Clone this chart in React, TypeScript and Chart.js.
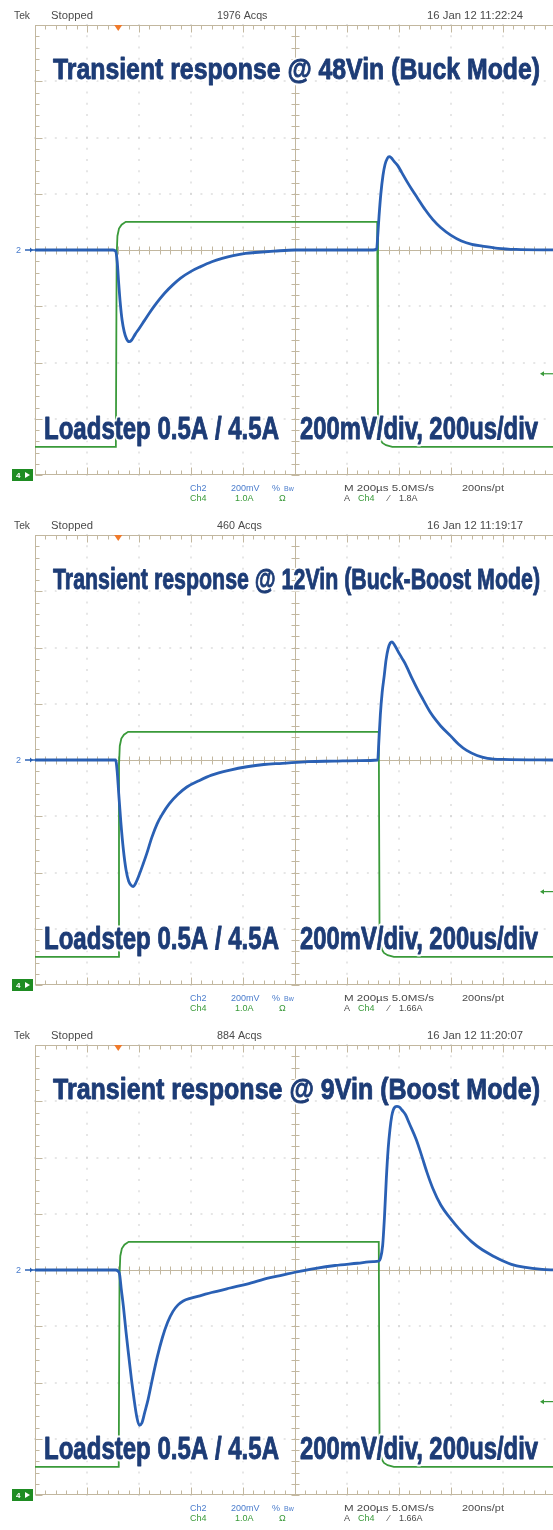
import React, { useEffect, useRef } from 'react';
import { Chart, registerables } from 'chart.js';

Chart.register(...registerables);

// ---------------- DATA (time in µs, Ch2 in mV around offset, Ch4 in A) ----------------
// Panel 1 – 48 Vin (Buck Mode)
const P1_CH2_TIME_US = [-1000, -900, -800, -700, -690, -684, -678, -672, -665, -657, -648, -638, -628, -615, -600, -580, -560, -540, -520, -500, -470, -440, -400, -365, -320, -280, -238, -190, -140, -80, 0, 100, 200, 300, 314, 318, 323, 330, 338, 346, 355, 362, 370, 380, 395, 410, 430, 450, 470, 500, 530, 560, 600, 640, 680, 720, 780, 850, 1000];
const P1_CH2_MV = [0, 0, 0, 0, -4, -40, -120, -190, -250, -290, -316, -326, -320, -300, -280, -252, -224, -198, -174, -152, -124, -100, -76, -60, -42, -30, -20, -12, -8, -4, 0, 0, 0, 0, 4, 50, 120, 200, 264, 304, 326, 332, 328, 316, 300, 276, 244, 214, 186, 144, 108, 80, 52, 32, 20, 14, 6, 2, 0];
const P1_CH4_TIME_US = [-1000, -689, -686, -683, -677, -667, -651, -620, 316, 319, 323, 328, 336, 350, 374, 1000];
const P1_CH4_AMPS = [0.5, 0.5, 3.9, 4.25, 4.38, 4.45, 4.5, 4.5, 4.5, 0.85, 0.72, 0.63, 0.57, 0.53, 0.5, 0.5];

// Panel 2 – 12 Vin (Buck-Boost Mode)
const P2_CH2_TIME_US = [-1000, -800, -690, -684, -678, -670, -660, -650, -640, -630, -622, -614, -600, -585, -570, -551, -530, -510, -484, -450, -416, -370, -321, -250, -185, -120, -49, 50, 150, 250, 318, 322, 328, 335, 343, 350, 358, 366, 373, 382, 395, 410, 425, 450, 475, 493, 520, 545, 561, 600, 629, 660, 700, 740, 800, 1000];
const P2_CH2_MV = [0, 0, 0, -40, -120, -220, -320, -390, -430, -446, -450, -440, -410, -372, -332, -276, -226, -192, -156, -122, -96, -74, -54, -36, -24, -16, -12, -6, -4, -2, 0, 60, 160, 240, 300, 356, 396, 416, 420, 410, 388, 364, 340, 290, 244, 214, 170, 138, 120, 84, 56, 34, 16, 6, 2, 0];
const P2_CH4_TIME_US = [-1000, -680, -677, -674, -668, -658, -642, -610, 322, 325, 329, 334, 342, 356, 380, 1000];
const P2_CH4_AMPS = [0.5, 0.5, 3.9, 4.25, 4.38, 4.45, 4.5, 4.5, 4.5, 0.85, 0.72, 0.63, 0.57, 0.53, 0.5, 0.5];

// Panel 3 – 9 Vin (Boost Mode)
const P3_CH2_TIME_US = [-1000, -800, -690, -676, -668, -660, -650, -639, -629, -619, -609, -599, -589, -578, -565, -551, -530, -510, -490, -470, -450, -430, -400, -360, -321, -250, -185, -100, -49, 0, 80, 154, 240, 300, 323, 328, 337, 344, 351, 358, 365, 372, 378, 385, 392, 400, 412, 425, 440, 466, 485, 507, 530, 561, 595, 629, 680, 720, 765, 800, 832, 880, 950, 1000];
const P3_CH2_MV = [0, 0, 0, -10, -70, -130, -220, -310, -390, -460, -520, -552, -544, -506, -460, -398, -310, -240, -186, -148, -124, -110, -100, -90, -80, -64, -50, -28, -18, -8, 6, 16, 24, 30, 32, 40, 88, 190, 324, 430, 500, 548, 570, 580, 582, 580, 568, 552, 520, 464, 412, 348, 290, 230, 186, 148, 100, 72, 48, 32, 20, 10, 2, 0];
const P3_CH4_TIME_US = [-1000, -678, -675, -672, -666, -656, -640, -610, 322, 325, 329, 334, 342, 356, 380, 1000];
const P3_CH4_AMPS = [0.5, 0.5, 3.9, 4.25, 4.38, 4.45, 4.5, 4.5, 4.5, 0.85, 0.72, 0.63, 0.57, 0.53, 0.5, 0.5];

// Texts
const PANEL_TITLES = [
  'Transient response @ 48Vin (Buck Mode)',
  'Transient response @ 12Vin (Buck-Boost Mode)',
  'Transient response @ 9Vin (Boost Mode)',
];
const ACQ_COUNTS = ['1976 Acqs', '460 Acqs', '884 Acqs'];
const TIMESTAMPS = ['16 Jan 12 11:22:24', '16 Jan 12 11:19:17', '16 Jan 12 11:20:07'];
const TRIGGER_LEVEL_A = [1.8, 1.66, 1.66];
const TRIGGER_LABELS = ['1.8A', '1.66A', '1.66A'];
const TRIGGER_TIME_US = -680;
const LOADSTEP_TEXT = 'Loadstep 0.5A / 4.5A';
const SCALE_TEXT = '200mV/div, 200us/div';

// ---------------- STYLE ----------------
const PANEL_H = 510;
const BLUE = '#2a60b4';
const GREEN = '#3a9a3a';
const NAVY = '#1d3c76';
const TICK = '#c2b79f';
const DOT = '#cdcdcd';
const GRAY_TXT = '#4a4a4a';
const CH2_TXT = '#4a7ccc';
const CH4_TXT = '#3a9a3a';

type PanelCfg = {
  ch2T: number[]; ch2V: number[]; ch4T: number[]; ch4A: number[];
  title: string; acqs: string; stamp: string; trigA: number; trigLabel: string;
};

const PANELS: PanelCfg[] = [
  { ch2T: P1_CH2_TIME_US, ch2V: P1_CH2_MV, ch4T: P1_CH4_TIME_US, ch4A: P1_CH4_AMPS, title: PANEL_TITLES[0], acqs: ACQ_COUNTS[0], stamp: TIMESTAMPS[0], trigA: TRIGGER_LEVEL_A[0], trigLabel: TRIGGER_LABELS[0] },
  { ch2T: P2_CH2_TIME_US, ch2V: P2_CH2_MV, ch4T: P2_CH4_TIME_US, ch4A: P2_CH4_AMPS, title: PANEL_TITLES[1], acqs: ACQ_COUNTS[1], stamp: TIMESTAMPS[1], trigA: TRIGGER_LEVEL_A[1], trigLabel: TRIGGER_LABELS[1] },
  { ch2T: P3_CH2_TIME_US, ch2V: P3_CH2_MV, ch4T: P3_CH4_TIME_US, ch4A: P3_CH4_AMPS, title: PANEL_TITLES[2], acqs: ACQ_COUNTS[2], stamp: TIMESTAMPS[2], trigA: TRIGGER_LEVEL_A[2], trigLabel: TRIGGER_LABELS[2] },
];

function fitText(ctx: CanvasRenderingContext2D, text: string, x: number, y: number, width: number, font: string, color: string, halo = 0, embolden = 0) {
  ctx.save();
  ctx.font = font;
  ctx.textAlign = 'left';
  ctx.textBaseline = 'alphabetic';
  const w = ctx.measureText(text).width || 1;
  ctx.translate(x, y);
  ctx.scale(width / w, 1);
  ctx.lineJoin = 'round';
  if (halo) {
    ctx.strokeStyle = 'rgba(255,255,255,0.92)';
    ctx.lineWidth = halo;
    ctx.strokeText(text, 0, 0);
  }
  ctx.fillStyle = color;
  ctx.fillText(text, 0, 0);
  if (embolden) {
    ctx.strokeStyle = color;
    ctx.lineWidth = embolden;
    ctx.strokeText(text, 0, 0);
  }
  ctx.restore();
}

function plainText(ctx: CanvasRenderingContext2D, text: string, x: number, y: number, color: string, size = 9) {
  ctx.save();
  ctx.font = `${size}px "Liberation Sans", Arial, sans-serif`;
  ctx.textAlign = 'left';
  ctx.textBaseline = 'alphabetic';
  ctx.fillStyle = color;
  ctx.fillText(text, x, y);
  ctx.restore();
}

const gridPlugin = {
  id: 'scopeGrid',
  beforeDatasetsDraw(chart: any) {
    const { ctx, chartArea: a, scales } = chart;
    const sx = scales.x;
    const sy = scales.yV;
    ctx.save();
    ctx.fillStyle = DOT;
    for (let i = 1; i <= 9; i++) {
      if (i === 5) continue;
      const px = Math.round(sx.getPixelForValue(-1000 + 200 * i));
      for (let k = 0; k <= 40; k++) {
        const py = sy.getPixelForValue(-800 + 40 * k);
        ctx.fillRect(px - 0.5, py - 1, 1, 2);
      }
    }
    for (let j = 1; j <= 7; j++) {
      if (j === 4) continue;
      const py = Math.round(sy.getPixelForValue(-800 + 200 * j));
      for (let k = 0; k <= 50; k++) {
        const px = sx.getPixelForValue(-1000 + 40 * k);
        if (px > a.right + 1) break;
        ctx.fillRect(px - 1, py - 0.5, 2, 1);
      }
    }
    ctx.strokeStyle = TICK;
    ctx.lineWidth = 1;
    ctx.beginPath();
    const cx = Math.round(sx.getPixelForValue(0)) + 0.5;
    const cy = Math.round(sy.getPixelForValue(0)) + 0.5;
    const L = Math.round(a.left) + 0.5;
    const T = Math.round(a.top) + 0.5;
    const B = Math.round(a.bottom) - 0.5;
    ctx.moveTo(cx, a.top); ctx.lineTo(cx, a.bottom);
    ctx.moveTo(a.left, cy); ctx.lineTo(a.right, cy);
    ctx.moveTo(L, a.top); ctx.lineTo(L, a.bottom);
    ctx.moveTo(a.left, T); ctx.lineTo(a.right, T);
    ctx.moveTo(a.left, B); ctx.lineTo(a.right, B);
    for (let k = 0; k <= 40; k++) {
      const py = Math.round(sy.getPixelForValue(-800 + 40 * k)) + 0.5;
      const major = k % 5 === 0;
      ctx.moveTo(cx - 4, py); ctx.lineTo(cx + 4, py);
      ctx.moveTo(L, py); ctx.lineTo(L + (major ? 7 : 4), py);
    }
    for (let k = 0; k <= 50; k++) {
      const px = Math.round(sx.getPixelForValue(-1000 + 40 * k)) + 0.5;
      if (px > a.right + 1) break;
      const major = k % 5 === 0;
      ctx.moveTo(px, cy - 4); ctx.lineTo(px, cy + 4);
      ctx.moveTo(px, T); ctx.lineTo(px, T + (major ? 7 : 4));
      ctx.moveTo(px, B); ctx.lineTo(px, B - (major ? 7 : 4));
    }
    ctx.stroke();
    ctx.restore();
  },
};

function makeOverlay(cfg: PanelCfg) {
  return {
    id: 'scopeOverlay',
    afterDraw(chart: any) {
      const { ctx, chartArea: a, scales } = chart;
      const sx = scales.x;
      const sv = scales.yV;
      const sa = scales.yA;
      const small = '10px "Liberation Sans", Arial, sans-serif';
      // header
      fitText(ctx, 'Tek', 14, 19, 16, small, GRAY_TXT);
      fitText(ctx, 'Stopped', 51, 19, 42, small, GRAY_TXT);
      fitText(ctx, cfg.acqs, 217, 19, cfg.acqs.length * 5.6, small, GRAY_TXT);
      fitText(ctx, cfg.stamp, 427, 19, 96, small, GRAY_TXT);
      // trigger position marker
      const tx = sx.getPixelForValue(TRIGGER_TIME_US);
      ctx.save();
      ctx.fillStyle = '#f07a2a';
      ctx.beginPath();
      ctx.moveTo(tx - 4, a.top);
      ctx.lineTo(tx + 4, a.top);
      ctx.lineTo(tx, a.top + 6);
      ctx.closePath();
      ctx.fill();
      ctx.restore();
      // Ch2 reference marker
      const y2 = sv.getPixelForValue(0);
      plainText(ctx, '2', 16, y2 + 3, CH2_TXT, 9);
      ctx.save();
      ctx.strokeStyle = BLUE; ctx.fillStyle = BLUE; ctx.lineWidth = 1.5;
      ctx.beginPath(); ctx.moveTo(25, y2); ctx.lineTo(a.left, y2); ctx.stroke();
      ctx.beginPath(); ctx.moveTo(30, y2 - 2.5); ctx.lineTo(33, y2); ctx.lineTo(30, y2 + 2.5); ctx.fill();
      ctx.restore();
      // Ch4 ground marker
      const y4 = sa.getPixelForValue(0);
      ctx.save();
      ctx.fillStyle = '#1e8c22';
      ctx.fillRect(12, y4 - 6, 21, 12);
      ctx.fillStyle = '#ffffff';
      ctx.font = 'bold 8px "Liberation Sans", Arial, sans-serif';
      ctx.fillText('4', 16, y4 + 3);
      ctx.beginPath(); ctx.moveTo(25, y4 - 3); ctx.lineTo(30, y4); ctx.lineTo(25, y4 + 3); ctx.fill();
      ctx.restore();
      // trigger level arrow (right)
      const yt = sa.getPixelForValue(cfg.trigA);
      ctx.save();
      ctx.strokeStyle = GREEN; ctx.fillStyle = GREEN; ctx.lineWidth = 1.2;
      ctx.beginPath(); ctx.moveTo(543, yt); ctx.lineTo(553, yt); ctx.stroke();
      ctx.beginPath(); ctx.moveTo(540, yt); ctx.lineTo(544, yt - 2.5); ctx.lineTo(544, yt + 2.5); ctx.fill();
      ctx.restore();
      // overlay titles
      const bigFont = 'bold 30px "Liberation Sans", Arial, sans-serif';
      fitText(ctx, cfg.title, 53, 79, 487, bigFont, NAVY, 5, 0.9);
      const lsFont = 'bold 31px "Liberation Sans", Arial, sans-serif';
      fitText(ctx, LOADSTEP_TEXT, 44, 439, 235, lsFont, NAVY, 5, 0.9);
      fitText(ctx, SCALE_TEXT, 300, 439, 238, lsFont, NAVY, 5, 0.9);
      // footer
      const r1 = 491, r2 = 501;
      plainText(ctx, 'Ch2', 190, r1, CH2_TXT);
      plainText(ctx, '200mV', 231, r1, CH2_TXT);
      plainText(ctx, '%', 272, r1, CH2_TXT);
      plainText(ctx, 'Bw', 284, r1, CH2_TXT, 7);
      fitText(ctx, 'M 200µs 5.0MS/s', 344, r1, 90, '9px "Liberation Sans", Arial, sans-serif', GRAY_TXT);
      fitText(ctx, '200ns/pt', 462, r1, 42, '9px "Liberation Sans", Arial, sans-serif', GRAY_TXT);
      plainText(ctx, 'Ch4', 190, r2, CH4_TXT);
      plainText(ctx, '1.0A', 235, r2, CH4_TXT);
      plainText(ctx, 'Ω', 279, r2, CH4_TXT);
      plainText(ctx, 'A', 344, r2, GRAY_TXT);
      plainText(ctx, 'Ch4', 358, r2, CH4_TXT);
      plainText(ctx, '⁄', 388, r2, GRAY_TXT);
      plainText(ctx, cfg.trigLabel, 399, r2, GRAY_TXT);
    },
  };
}

function ScopePanel({ cfg, top }: { cfg: PanelCfg; top: number }) {
  const ref = useRef<HTMLCanvasElement>(null);
  useEffect(() => {
    const canvas = ref.current!;
    const chart = new Chart(canvas, {
      type: 'line',
      data: {
        datasets: [
          {
            data: cfg.ch2T.map((t, i) => ({ x: t, y: cfg.ch2V[i] })),
            yAxisID: 'yV',
            borderColor: BLUE,
            borderWidth: 2.8,
            pointRadius: 0,
            cubicInterpolationMode: 'monotone',
          },
          {
            data: cfg.ch4T.map((t, i) => ({ x: t, y: cfg.ch4A[i] })),
            yAxisID: 'yA',
            borderColor: GREEN,
            borderWidth: 1.8,
            pointRadius: 0,
            tension: 0,
          },
        ],
      },
      options: {
        responsive: false,
        animation: false,
        events: [],
        layout: { padding: { left: 35, top: 25, right: 0, bottom: 35 } },
        scales: {
          x: { type: 'linear', min: -1000, max: 992, display: false },
          yV: { type: 'linear', min: -800, max: 800, display: false },
          yA: { type: 'linear', min: 0, max: 8, display: false },
        },
        plugins: { legend: { display: false }, tooltip: { enabled: false } },
      },
      plugins: [gridPlugin, makeOverlay(cfg)],
    } as any);
    return () => chart.destroy();
  }, [cfg]);
  return (
    <canvas
      ref={ref}
      width={553}
      height={PANEL_H}
      style={{ position: 'absolute', left: 0, top, width: 553, height: PANEL_H, display: 'block' }}
    />
  );
}

export default function App() {
  return (
    <div style={{ position: 'absolute', left: 0, top: 0, width: 553, height: 1530, background: '#ffffff', overflow: 'hidden' }}>
      {PANELS.map((p, i) => (
        <ScopePanel key={i} cfg={p} top={i * PANEL_H} />
      ))}
    </div>
  );
}
